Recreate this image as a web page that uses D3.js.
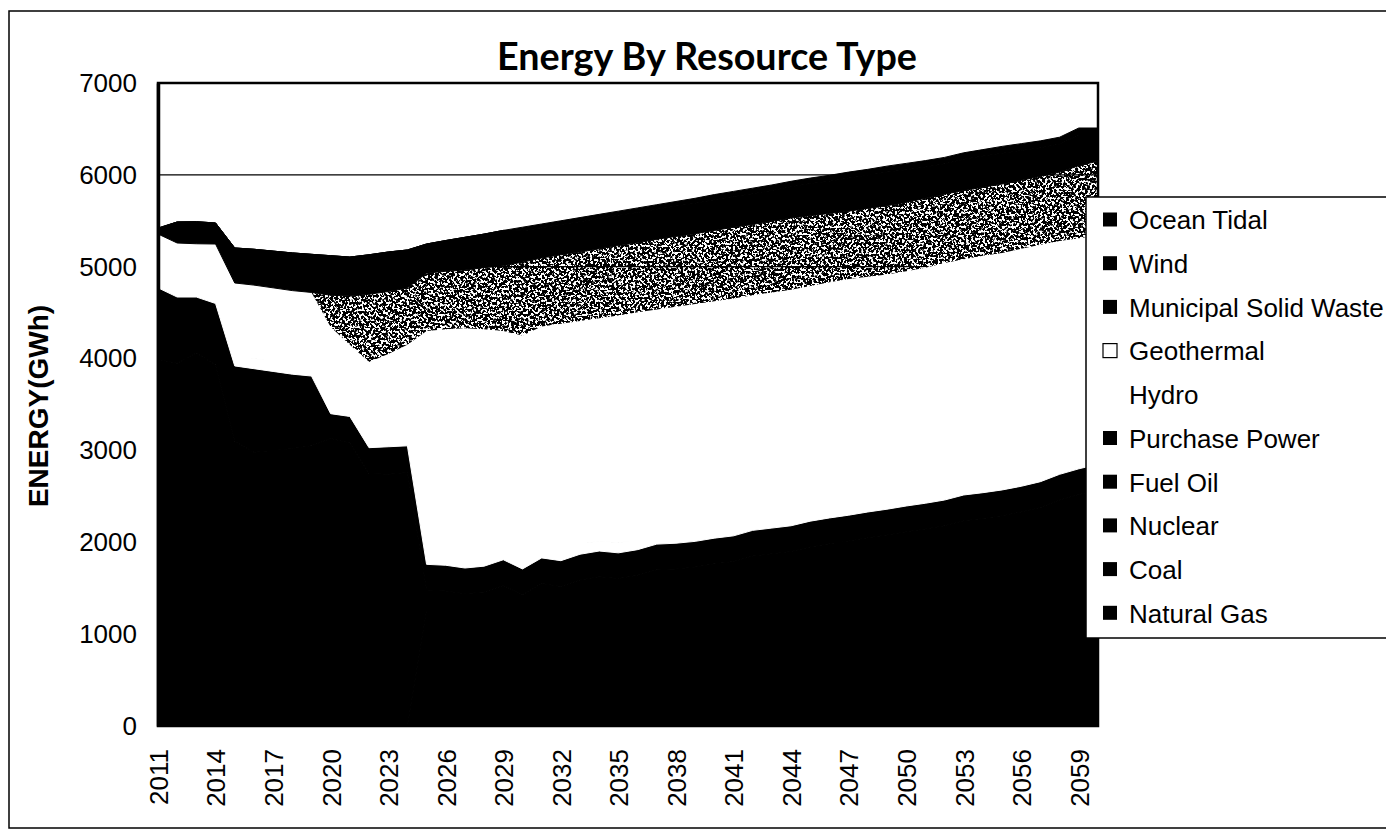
<!DOCTYPE html>
<html>
<head>
<meta charset="utf-8">
<script src="https://cdn.jsdelivr.net/npm/d3@7"></script>
<style>
  body { margin: 0; background: #fff; }
  svg { display: block; }
</style>
</head>
<body>
<svg id="chart" width="1386" height="831"></svg>
<script>
// categories
const years = [2011, 2012, 2013, 2014, 2015, 2016, 2017, 2018, 2019, 2020,
               2021, 2022, 2023, 2024, 2025, 2026, 2027, 2028, 2029, 2030,
               2031, 2032, 2033, 2034, 2035, 2036, 2037, 2038, 2039, 2040,
               2041, 2042, 2043, 2044, 2045, 2046, 2047, 2048, 2049, 2050,
               2051, 2052, 2053, 2054, 2055, 2056, 2057, 2058, 2059, 2060];
const yearLabels = [2011, 2014, 2017, 2020, 2023, 2026, 2029, 2032, 2035, 2038,
                    2041, 2044, 2047, 2050, 2053, 2056, 2059];
const yTicks = [0, 1000, 2000, 3000, 4000, 5000, 6000, 7000];

// series values (GWh)
const naturalGas = [0, 0, 0, 0, 0, 0, 0, 0, 0, 0, 0, 0, 0, 0,
    1260, 1260, 1240, 1260, 1320, 1240, 1350, 1320, 1390, 1435, 1415, 1450, 1520, 1530, 1550, 1585,
    1620, 1680, 1705, 1730, 1790, 1825, 1855, 1890, 1930, 1965, 1995, 2030, 2095, 2120, 2150, 2190,
    2250, 2330, 2390, 2440];
const coal = [1290, 1300, 1310, 1280, 1300, 1290, 1300, 1310, 1290, 1300, 1280, 1300, 1290, 1300,
    0, 0, 0, 0, 0, 0, 0, 0, 0, 0, 0, 0, 0, 0, 0, 0, 0, 0, 0, 0, 0, 0,
    0, 0, 0, 0, 0, 0, 0, 0, 0, 0, 0, 0, 0, 0];
const nuclear = [0, 0, 0, 0, 0, 0, 0, 0, 0, 0, 0, 0, 0, 0, 0, 0, 0, 0, 0, 0, 0, 0, 0, 0, 0,
    0, 0, 0, 0, 0, 0, 0, 0, 0, 0, 0, 0, 0, 0, 0, 0, 0, 0, 0, 0, 0, 0, 0, 0, 0];
const fuelOil = [2700, 2650, 2750, 2650, 1800, 1690, 1700, 1710, 1760, 1830, 1800, 1450, 1450, 1460,
    220, 210, 200, 200, 210, 190, 200, 200, 200, 190, 190, 190, 180, 180, 180, 180,
    170, 170, 170, 170, 160, 160, 160, 160, 150, 150, 150, 150, 140, 140, 140, 140,
    130, 130, 130, 130];
const purchasePower = [780, 720, 610, 670, 820, 910, 860, 810, 760, 270, 290, 280, 300, 290,
    280, 280, 280, 280, 280, 280, 280, 280, 280, 280, 280, 280, 280, 280, 280, 280,
    280, 280, 280, 280, 280, 280, 280, 280, 280, 280, 280, 280, 280, 280, 280, 280,
    280, 280, 280, 280];
const hydro = [110, 110, 110, 110, 110, 110, 110, 110, 110, 110, 110, 110, 110, 110, 110, 110,
    110, 110, 110, 110, 110, 110, 110, 110, 110, 110, 110, 110, 110, 110, 110, 110, 110,
    110, 110, 110, 110, 110, 110, 110, 110, 110, 110, 110, 110, 110, 110, 110, 110, 110];
const geothermal = [476, 478, 470, 537, 793, 800, 800, 800, 800, 834, 670, 823, 900, 990,
    2430, 2460, 2500, 2470, 2380, 2430, 2410, 2470, 2430, 2425, 2475, 2475, 2445, 2465, 2475, 2470,
    2475, 2450, 2455, 2460, 2450, 2455, 2460, 2450, 2445, 2445, 2455, 2470, 2455, 2470, 2470, 2475,
    2470, 2430, 2400, 2380];
const municipalSolidWaste = [0, 0, 0, 0, 0, 0, 0, 0, 0, 346, 530, 737, 680, 618,
    630, 630, 634, 670, 710, 800, 745, 750, 750, 755, 760, 755, 765, 765, 765, 770,
    775, 770, 775, 780, 765, 750, 740, 745, 750, 750, 755, 750, 750, 745, 750, 745,
    745, 750, 790, 810];
const wind = [64, 229, 240, 229, 381, 390, 400, 410, 415, 430, 425, 430, 430, 414,
    317, 335, 356, 365, 385, 340, 330, 330, 330, 330, 330, 330, 325, 330, 330, 335,
    335, 335, 335, 340, 350, 350, 360, 360, 365, 355, 340, 330, 340, 340, 335, 325,
    310, 305, 330, 280];
const oceanTidal = [0, 0, 0, 0, 0, 0, 0, 0, 0, 0, 0, 0, 0, 0, 0, 0, 0, 0, 0,
    40, 40, 40, 45, 45, 45, 50, 50, 50, 55, 55, 55, 60, 60, 60, 60,
    65, 65, 65, 65, 70, 70, 70, 70, 70, 75, 75, 75, 75, 80, 80];

// stacking order, bottom to top
const seriesNames = ["Natural Gas", "Coal", "Nuclear", "Fuel Oil", "Purchase Power",
                     "Hydro", "Geothermal", "Municipal Solid Waste", "Wind", "Ocean Tidal"];
const seriesValues = [naturalGas, coal, nuclear, fuelOil, purchasePower,
                      hydro, geothermal, municipalSolidWaste, wind, oceanTidal];

// scanned look: dark series print black, light ones white, MSW dithered
const fills = {
    "Natural Gas": "#000", "Coal": "#000", "Nuclear": "#000", "Fuel Oil": "#000",
    "Purchase Power": "#000", "Hydro": "#fff", "Geothermal": "#fff",
    "Municipal Solid Waste": "#000", "Wind": "#000", "Ocean Tidal": "#000"
};

const svg = d3.select("#chart");
const font = "'Liberation Sans', Arial, sans-serif";

// plot area
const plotLeft = 158, plotRight = 1098, plotTop = 83, plotBottom = 726;

const x = d3.scaleLinear().domain([2011, 2060]).range([plotLeft, plotRight]);
const y = d3.scaleLinear().domain([0, 7000]).range([plotBottom, plotTop]);

// dither filter for the grey series
const defs = svg.append("defs");
const dither = defs.append("filter")
    .attr("id", "dither")
    .attr("x", 0).attr("y", 0).attr("width", 1).attr("height", 1);
dither.append("feTurbulence")
    .attr("type", "fractalNoise")
    .attr("baseFrequency", 0.42)
    .attr("numOctaves", 3)
    .attr("seed", 7)
    .attr("result", "noise");
dither.append("feColorMatrix")
    .attr("in", "noise")
    .attr("type", "matrix")
    .attr("values", "0 0 0 0 0  0 0 0 0 0  0 0 0 0 0  18 0 0 0 -7.9")
    .attr("result", "mask");
dither.append("feComposite")
    .attr("in", "mask")
    .attr("in2", "SourceGraphic")
    .attr("operator", "in");

// outer chart border
svg.append("rect")
    .attr("x", 9).attr("y", 11)
    .attr("width", 1400).attr("height", 817)
    .attr("fill", "#fff")
    .attr("stroke", "#000")
    .attr("stroke-width", 1.5);

// gridlines (behind the areas)
svg.append("g")
    .selectAll("line")
    .data(yTicks.filter(d => d > 0 && d < 7000))
    .enter()
    .append("line")
    .attr("x1", plotLeft).attr("x2", plotRight)
    .attr("y1", d => y(d)).attr("y2", d => y(d))
    .attr("stroke", "#000")
    .attr("stroke-width", 1.2);

// stacked areas
const rows = years.map((yr, i) => {
    const row = { year: yr };
    seriesNames.forEach((name, k) => { row[name] = seriesValues[k][i]; });
    return row;
});

const stack = d3.stack().keys(seriesNames);
const layers = stack(rows);

const area = d3.area()
    .x(d => x(d.data.year))
    .y0(d => y(d[0]))
    .y1(d => y(d[1]));

svg.append("g")
    .selectAll("path")
    .data(layers)
    .enter()
    .append("path")
    .attr("d", area)
    .attr("fill", d => fills[d.key])
    // a thin stroke of the same colour hides the seams between layers
    .attr("stroke", d => d.key === "Municipal Solid Waste" ? "none" : fills[d.key])
    .attr("stroke-width", 1)
    .attr("stroke-linejoin", "round")
    .attr("filter", d => d.key === "Municipal Solid Waste" ? "url(#dither)" : null);

// plot area border
svg.append("rect")
    .attr("x", plotLeft).attr("y", plotTop)
    .attr("width", plotRight - plotLeft).attr("height", plotBottom - plotTop)
    .attr("fill", "none")
    .attr("stroke", "#000")
    .attr("stroke-width", 2.5);

// y axis
const yAxis = svg.append("g")
    .attr("transform", `translate(${plotLeft},0)`)
    .call(d3.axisLeft(y).tickValues(yTicks).tickFormat(d3.format("d")).tickSize(0).tickPadding(21));
yAxis.select(".domain").attr("stroke", "#000").attr("stroke-width", 3.5);
yAxis.selectAll("text")
    .attr("font-family", font)
    .attr("font-size", "26px")
    .attr("fill", "#000");

// x axis, rotated labels
const xAxis = svg.append("g")
    .attr("transform", `translate(0,${plotBottom})`)
    .call(d3.axisBottom(x).tickValues(yearLabels).tickFormat(d3.format("d")).tickSize(0));
xAxis.select(".domain").remove();
xAxis.selectAll("text")
    .attr("font-family", font)
    .attr("font-size", "26px")
    .attr("fill", "#000")
    .attr("transform", "rotate(-90)")
    .attr("text-anchor", "end")
    .attr("x", -23)
    .attr("y", 0)
    .attr("dy", "0.36em");

// y axis title
svg.append("text")
    .attr("transform", "translate(48,406) rotate(-90)")
    .attr("text-anchor", "middle")
    .attr("font-family", font)
    .attr("font-weight", "bold")
    .attr("font-size", "28px")
    .attr("fill", "#000")
    .text("ENERGY(GWh)");

// chart title
const title = svg.append("text")
    .attr("x", 707)
    .attr("y", 70)
    .attr("text-anchor", "middle")
    .attr("font-family", "Lato, 'Open Sans', sans-serif")
    .attr("font-weight", "bold")
    .attr("font-size", "30px")
    .attr("fill", "#000")
    .text("Energy By Resource Type");
const titleWidth = title.node().getComputedTextLength();
title.attr("font-size", (30 * 420 / titleWidth).toFixed(1) + "px");

// legend (top series first, as Excel lists it)
const legend = svg.append("g");
legend.append("rect")
    .attr("x", 1086).attr("y", 197)
    .attr("width", 320).attr("height", 441)
    .attr("fill", "#fff")
    .attr("stroke", "#000")
    .attr("stroke-width", 1.5);

const legendItems = seriesNames.slice().reverse();
const legendRow = legend.selectAll("g.item")
    .data(legendItems)
    .enter()
    .append("g")
    .attr("class", "item")
    .attr("transform", (d, i) => `translate(1103,${220 + i * 43.7})`);

legendRow.append("rect")
    .attr("x", 0).attr("y", -7.5)
    .attr("width", 14).attr("height", 14)
    .attr("fill", d => fills[d])
    .attr("stroke", d => d === "Geothermal" ? "#000" : "none")
    .attr("stroke-width", 1.2);

legendRow.append("text")
    .attr("x", 26)
    .attr("dy", "0.36em")
    .attr("font-family", font)
    .attr("font-size", "26px")
    .attr("fill", "#000")
    .text(d => d);
</script>
</body>
</html>
